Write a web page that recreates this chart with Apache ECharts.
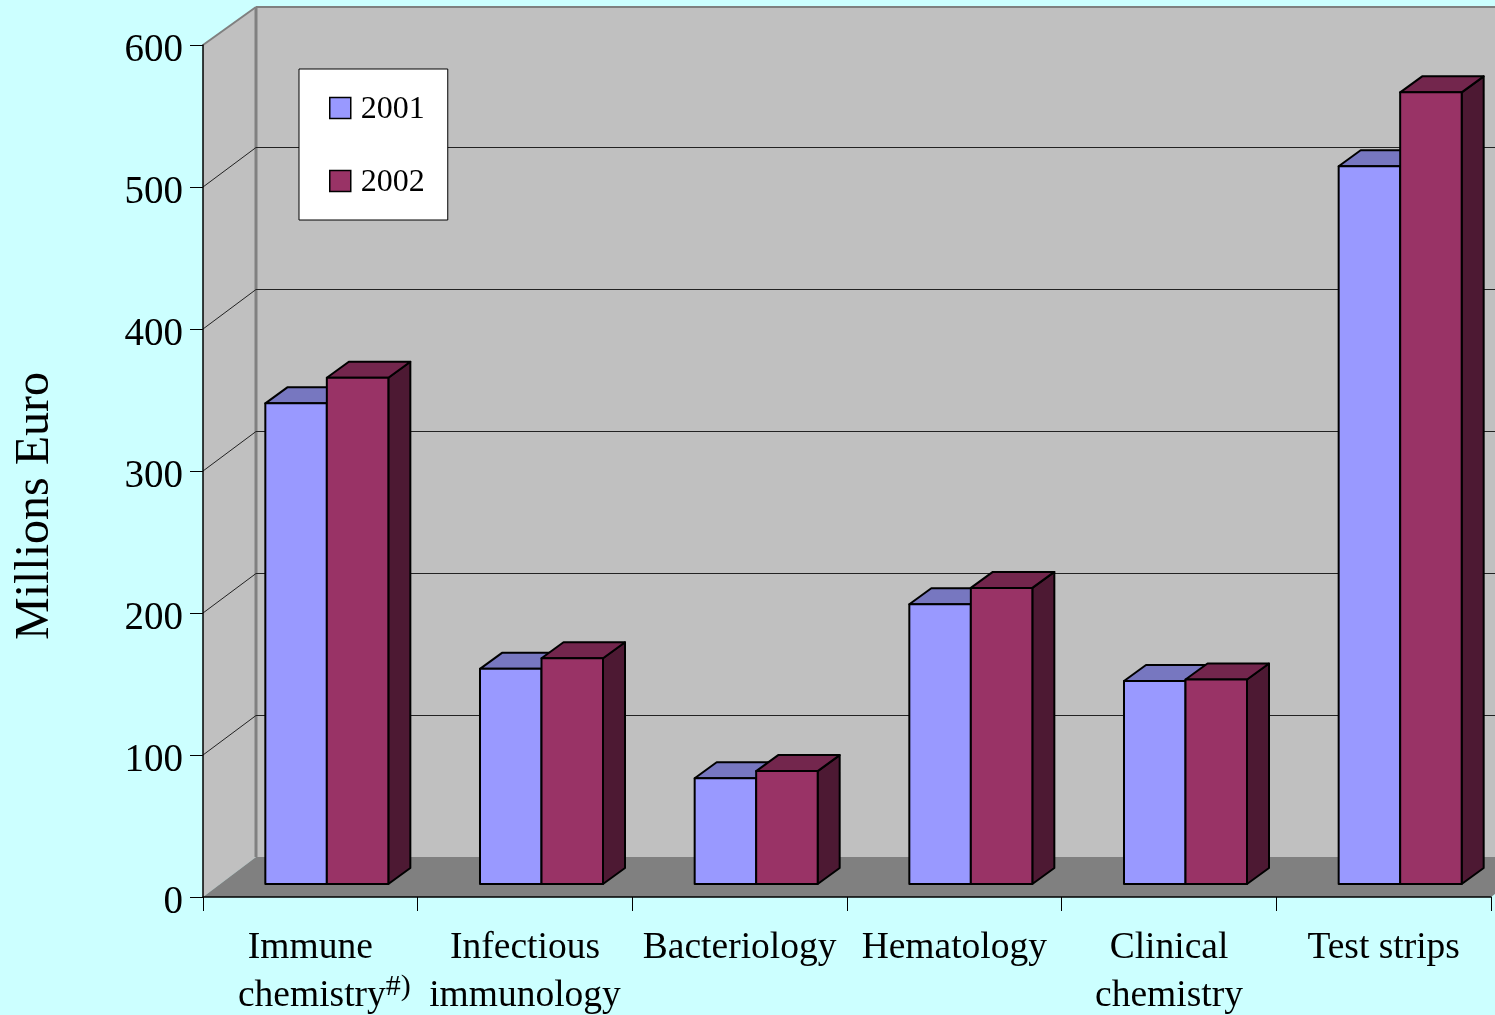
<!DOCTYPE html>
<html><head><meta charset="utf-8">
<style>html,body{margin:0;padding:0;background:#CCFFFF}#c{width:1495px;height:1015px}</style>
<script src="https://cdn.jsdelivr.net/npm/echarts@6/dist/echarts.min.js"></script>
</head><body><div id="c"></div>
<script>
const categories = ['Immune\n   chemistry#)', 'Infectious\nimmunology', 'Bacteriology', 'Hematology', 'Clinical\nchemistry', 'Test strips'];
const values2001 = [338.5, 151.5, 74.5, 197, 143, 505.5];
const values2002 = [356.5, 159, 79.5, 208.5, 144, 557.5];
const yTicks = [100, 200, 300, 400, 500, 600];
const FONT = '"Liberation Serif","Times New Roman",serif';
const DX = 53, DY = 39;            // oblique depth of the plot box
const BAR_DX = 16.5, BAR_DY = 13;  // bar front offset inside that depth
const SIDE_DX = 22, SIDE_DY = 16;  // bar depth
const BAR = 0.2865;                // bar width as a share of the band
const colors = {
  a: {front: '#9999FF', top: '#7777C0', side: '#4D4D80'},
  b: {front: '#993366', top: '#73264D', side: '#4D1933'}
};
const line = {stroke: '#000', lineWidth: 2, lineJoin: 'round'};

function poly(pts, fill, extra) {
  return {type: 'polygon', shape: {points: pts}, style: Object.assign({fill: fill}, extra || {})};
}
function seg(x1, y1, x2, y2, stroke, w) {
  return {type: 'line', shape: {x1, y1, x2, y2}, style: {stroke, lineWidth: w}};
}
function renderWalls(params, api) {
  const g = params.coordSys, x0 = g.x, x1 = g.x + g.width;
  const y0 = api.coord([0, 0])[1], yT = api.coord([0, 600])[1];
  const floorY = y0 - DY - 1, topY = yT - DY + 1;
  const kids = [
    poly([[x0 + DX, floorY], [x1 + DX, floorY], [x1 + DX, topY], [x0 + DX, topY]], '#C0C0C0'),
    poly([[x0, y0], [x0 + DX, floorY], [x0 + DX, topY], [x0, yT]], '#C0C0C0'),
    poly([[x0, y0], [x0 + DX, floorY], [x1 + DX, floorY], [x1, y0]], '#808080'),
    seg(x0 + DX, floorY, x0 + DX, topY, '#808080', 3),
    seg(x0, yT, x0 + DX, topY, '#808080', 2),
    seg(x0 + DX, topY, x1 + DX, topY, '#808080', 2)
  ];
  yTicks.slice(0, -1).forEach(t => {
    const y = api.coord([0, t])[1];
    const by = Math.round(y - DY) - 0.5;
    kids.push(seg(x0, y, x0 + DX, by, '#222', 1));
    kids.push(seg(x0 + DX, by, x1 + DX, by, '#222', 1));
  });
  return {type: 'group', children: kids};
}
function renderBar(k, c) {
  return function (params, api) {
    const i = api.value(0), v = api.value(1);
    const band = api.size([1, 0])[0], w = band * BAR;
    const cx = api.coord([i, 0])[0];
    const y0 = api.coord([i, 0])[1], yv = api.coord([i, v])[1];
    const L = cx + (k - 1) * w + BAR_DX, R = L + w, B = y0 - BAR_DY, T = yv - BAR_DY;
    const bx = SIDE_DX, by = SIDE_DY;
    return {type: 'group', children: [
      poly([[R, B], [R + bx, B - by], [R + bx, T - by], [R, T]], c.side, line),
      poly([[L, T], [R, T], [R + bx, T - by], [L + bx, T - by]], c.top, line),
      poly([[L, B], [R, B], [R, T], [L, T]], c.front, line)
    ]};
  };
}
const chart = echarts.init(document.getElementById('c'), null, {renderer: 'canvas'});
chart.setOption({
  animation: false,
  backgroundColor: '#CCFFFF',
  grid: {left: 203, right: 4, top: 45, bottom: 118, containLabel: false, outerBoundsMode: 'none'},
  legend: {
    orient: 'vertical', left: 299, top: 69,
    padding: [25, 23, 21, 30], itemGap: 41, itemWidth: 21, itemHeight: 21,
    backgroundColor: '#fff', borderColor: '#000', borderWidth: 1,
    selectedMode: false,
    formatter: n => '{v|' + n + '}',
    textStyle: {
      fontFamily: FONT, fontSize: 32, color: '#000',
      rich: {v: {fontFamily: FONT, fontSize: 32, color: '#000', padding: [4, 0, 0, 5]}}
    },
    data: [
      {name: '2001', icon: 'rect', itemStyle: {color: colors.a.front, borderColor: '#000', borderWidth: 1.5}},
      {name: '2002', icon: 'rect', itemStyle: {color: colors.b.front, borderColor: '#000', borderWidth: 1.5}}
    ]
  },
  xAxis: {
    type: 'category', data: categories, z: 5,
    axisLine: {show: true, lineStyle: {color: '#000', width: 1.5}},
    axisTick: {show: true, length: 14, lineStyle: {color: '#000', width: 1}},
    axisLabel: {
      interval: 0, margin: 27, hideOverlap: false, color: '#000',
      fontFamily: FONT, fontSize: 37.5, lineHeight: 48,
      formatter: v => v.replace('#)', '{sup|#)}'),
      rich: {sup: {fontFamily: FONT, fontSize: 30, lineHeight: 48, verticalAlign: 'top', color: '#000'}}
    }
  },
  yAxis: {
    type: 'value', min: 0, max: 600, interval: 100, z: 5,
    splitLine: {show: false},
    axisLine: {show: true, lineStyle: {color: '#000', width: 1.5}},
    axisTick: {show: true, length: 13, lineStyle: {color: '#000', width: 1}},
    axisLabel: {
      margin: 20, color: '#000',
      formatter: v => '{v|' + v + '}',
      rich: {v: {fontFamily: FONT, fontSize: 39, color: '#000', padding: [12, 0, 0, 0]}}
    }
  },
  graphic: [{
    type: 'text', x: 35, y: 506, rotation: Math.PI / 2,
    style: {text: 'Millions Euro', font: '48px ' + FONT, fill: '#000', textAlign: 'center', textVerticalAlign: 'middle'}
  }],
  series: [
    {type: 'custom', name: 'walls', z: 1, clip: false, silent: true, data: [[0, 0]], renderItem: renderWalls},
    {type: 'custom', name: '2001', z: 2, clip: false, silent: true, itemStyle: {color: colors.a.front},
     data: values2001.map((v, i) => [i, v]), encode: {x: 0, y: 1}, renderItem: renderBar(0, colors.a)},
    {type: 'custom', name: '2002', z: 3, clip: false, silent: true, itemStyle: {color: colors.b.front},
     data: values2002.map((v, i) => [i, v]), encode: {x: 0, y: 1}, renderItem: renderBar(1, colors.b)}
  ]
});
</script></body></html>
